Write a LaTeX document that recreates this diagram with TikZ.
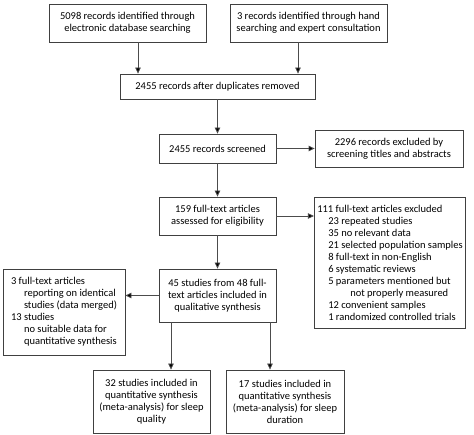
\documentclass[tikz,border=0pt]{standalone}
\usepackage{fontspec}
\setmainfont{Carlito}
\usepackage{tikz}
\usetikzlibrary{arrows.meta, positioning, calc}

\tikzset{
  box/.style={draw=black!75, line width=0.8pt, align=center, inner sep=3pt,
    font=\fontsize{10.5}{12}\selectfont},
  listbox/.style={box, align=left},
  arr/.style={draw=black!70, line width=0.8pt, -{Triangle[length=6pt,width=5.5pt,fill=black]}}
}

\begin{document}
\begin{tikzpicture}[x=1pt, y=-1pt]
  \useasboundingbox (0,0) rectangle (474,435);

  % Identification
  \node[box, minimum width=157pt, minimum height=38pt] (dbase) at (127.5,23)
    {5098 records identified through\\electronic database searching};
  \node[box, minimum width=157pt, minimum height=38pt] (hand) at (308.5,23)
    {3 records identified through hand\\searching and expert consultation};
  \node[box, minimum width=195pt, minimum height=25pt] (dupl) at (217.5,86.5)
    {2455 records after duplicates removed};

  % Screening
  \node[box, minimum width=117pt, minimum height=29pt] (screen) at (217.5,148.5)
    {2455 records screened};
  \node[box, minimum width=148pt, minimum height=37pt] (exscreen) at (389,148.5)
    {2296 records excluded by\\screening titles and abstracts};

  % Eligibility
  \node[box, minimum width=117pt, minimum height=38pt] (fulltext) at (217.5,216)
    {159 full-text articles\\assessed for eligibility};
  \node[listbox, minimum width=146pt, minimum height=131pt] (exfull) at (390,262.5)
    {111 full-text articles excluded\\
     \hspace*{11pt}23 repeated studies\\
     \hspace*{11pt}35 no relevant data\\
     \hspace*{11pt}21 selected population samples\\
     \hspace*{11pt}8 full-text in non-English\\
     \hspace*{11pt}6 systematic reviews\\
     \hspace*{11pt}5 parameters mentioned but\\
     \hspace*{33pt}not properly measured\\
     \hspace*{11pt}12 convenient samples\\
     \hspace*{11pt}1 randomized controlled trials};

  % Included
  \node[box, minimum width=117pt, minimum height=53pt] (qualit) at (217.5,295.5)
    {45 studies from 48 full-\\text articles included in\\qualitative synthesis};
  \node[listbox, minimum width=122pt, minimum height=86pt] (merged) at (64,312)
    {3 full-text articles\\
     \hspace*{13pt}reporting on identical\\
     \hspace*{13pt}studies (data merged)\\
     13 studies\\
     \hspace*{13pt}no suitable data for\\
     \hspace*{13pt}quantitative synthesis};
  \node[box, minimum width=117pt, minimum height=63pt] (quality) at (151.5,401.5)
    {32 studies included in\\quantitative synthesis\\(meta-analysis) for sleep\\quality};
  \node[box, minimum width=118pt, minimum height=63pt] (duration) at (285,401.5)
    {17 studies included in\\quantitative synthesis\\(meta-analysis) for sleep\\duration};

  % Arrows
  \draw[arr] ([xshift=10.5pt]dbase.south) -- ([xshift=10.5pt]dbase.south |- dupl.north);
  \draw[arr] ([xshift=-10.5pt]hand.south) -- ([xshift=-10.5pt]hand.south |- dupl.north);
  \draw[arr] (dupl) -- (screen);
  \draw[arr] (screen) -- (exscreen);
  \draw[arr] (screen) -- (fulltext);
  \draw[arr] (fulltext.east) -- (fulltext.east -| exfull.west);
  \draw[arr] (fulltext) -- (qualit);
  \draw[arr] (qualit.west) -- (qualit.west -| merged.east);
  \draw[arr] ([xshift=-46.5pt]qualit.south) -- ([xshift=-46.5pt]qualit.south |- quality.north);
  \draw[arr] ([xshift=52.5pt]qualit.south) -- ([xshift=52.5pt]qualit.south |- duration.north);
\end{tikzpicture}
\end{document}
